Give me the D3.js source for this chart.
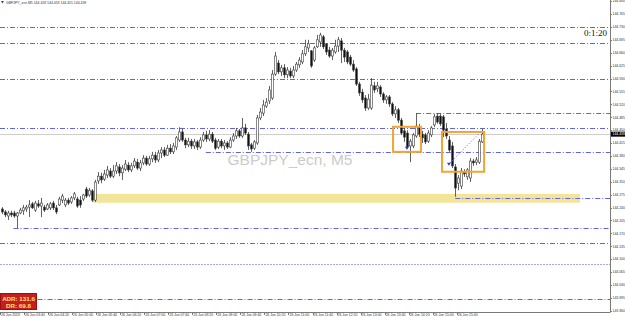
<!DOCTYPE html>
<html>
<head>
<meta charset="utf-8">
<script src="https://cdn.jsdelivr.net/npm/d3@7/dist/d3.min.js"></script>
<style>
  body { margin: 0; background: #fff; }
  #chart svg { display: block; }
  .tick-label { font-family: "Liberation Sans", Arial, sans-serif; font-size: 8px; fill: #333; }
</style>
</head>
<body>
<div id="chart"></div>
<script>
// GBPJPY M5 bars (prices)
const OPEN = [
  144.236,144.228,144.217,144.225,144.225,144.217,144.225,144.231,144.236,144.241,
  144.250,144.233,144.250,144.244,144.241,144.236,144.239,144.252,144.239,144.247,
  144.260,144.247,144.260,144.255,144.266,144.263,144.260,144.263,144.290,144.274,
  144.285,144.260,144.312,144.325,144.317,144.328,144.339,144.325,144.339,144.350,
  144.334,144.344,144.355,144.342,144.353,144.363,144.347,144.361,144.374,144.358,
  144.372,144.382,144.369,144.388,144.396,144.382,144.401,144.391,144.404,144.423,
  144.445,144.423,144.410,144.420,144.407,144.418,144.404,144.423,144.437,144.426,
  144.439,144.423,144.404,144.420,144.407,144.415,144.404,144.423,144.434,144.448,
  144.434,144.456,144.439,144.410,144.401,144.415,144.483,144.496,144.515,144.529,
  144.537,144.602,144.632,144.608,144.619,144.600,144.610,144.597,144.613,144.627,
  144.635,144.657,144.673,144.665,144.640,144.676,144.689,144.703,144.684,144.667,
  144.651,144.662,144.678,144.692,144.667,144.662,144.648,144.629,144.616,144.575,
  144.553,144.537,144.510,144.510,144.570,144.562,144.567,144.548,144.532,144.540,
  144.521,144.494,144.505,144.477,144.448,144.442,144.407,144.407,144.434,144.458,
  144.439,144.437,144.420,144.437,144.464,144.488,144.488,144.486,144.453,144.423,
  144.407,144.350,144.306,144.298,144.336,144.323,144.320,144.366,144.363,144.363,
  144.418
];
const HIGH = [
  144.241,144.233,144.231,144.231,144.231,144.228,144.239,144.247,144.247,144.260,
  144.255,144.258,144.260,144.266,144.247,144.252,144.255,144.258,144.247,144.269,
  144.277,144.266,144.266,144.271,144.282,144.269,144.271,144.277,144.296,144.293,
  144.290,144.315,144.336,144.334,144.342,144.353,144.347,144.355,144.363,144.358,
  144.355,144.369,144.363,144.361,144.374,144.372,144.369,144.382,144.380,144.380,
  144.391,144.391,144.396,144.404,144.404,144.410,144.412,144.415,144.434,144.458,
  144.453,144.429,144.429,144.426,144.426,144.423,144.431,144.445,144.448,144.450,
  144.445,144.429,144.426,144.426,144.423,144.420,144.431,144.442,144.456,144.453,
  144.483,144.467,144.445,144.415,144.423,144.491,144.510,144.532,144.537,144.570,
  144.613,144.662,144.640,144.627,144.629,144.621,144.619,144.624,144.635,144.648,
  144.667,144.695,144.695,144.667,144.678,144.708,144.714,144.708,144.686,144.676,
  144.673,144.695,144.703,144.700,144.673,144.667,144.654,144.640,144.621,144.581,
  144.562,144.545,144.548,144.591,144.581,144.581,144.572,144.553,144.545,144.545,
  144.526,144.515,144.510,144.483,144.456,144.450,144.426,144.442,144.496,144.467,
  144.448,144.442,144.450,144.461,144.494,144.496,144.494,144.491,144.469,144.434,
  144.418,144.358,144.328,144.347,144.344,144.347,144.374,144.372,144.377,144.426,
  144.453
];
const LOW = [
  144.222,144.214,144.206,144.214,144.212,144.184,144.222,144.220,144.228,144.214,
  144.236,144.228,144.239,144.214,144.228,144.233,144.233,144.233,144.222,144.244,
  144.252,144.241,144.247,144.250,144.260,144.239,144.239,144.258,144.266,144.269,
  144.255,144.255,144.304,144.306,144.312,144.320,144.320,144.320,144.331,144.325,
  144.315,144.339,144.336,144.336,144.347,144.342,144.339,144.355,144.353,144.353,
  144.363,144.361,144.363,144.374,144.377,144.380,144.385,144.385,144.396,144.418,
  144.418,144.401,144.404,144.399,144.399,144.396,144.399,144.418,144.418,144.420,
  144.415,144.396,144.399,144.401,144.396,144.399,144.401,144.418,144.426,144.429,
  144.429,144.437,144.396,144.391,144.396,144.410,144.477,144.488,144.510,144.521,
  144.532,144.597,144.602,144.597,144.591,144.591,144.591,144.591,144.608,144.619,
  144.629,144.651,144.662,144.619,144.635,144.673,144.676,144.670,144.654,144.646,
  144.640,144.657,144.662,144.632,144.635,144.629,144.624,144.608,144.570,144.543,
  144.524,144.502,144.505,144.505,144.551,144.553,144.540,144.524,144.521,144.513,
  144.488,144.483,144.469,144.437,144.418,144.399,144.363,144.401,144.429,144.431,
  144.415,144.412,144.415,144.431,144.458,144.467,144.461,144.431,144.426,144.391,
  144.347,144.269,144.287,144.290,144.323,144.315,144.309,144.353,144.355,144.358,
  144.415
];
const CLOSE = [
  144.228,144.220,144.225,144.220,144.217,144.225,144.233,144.239,144.241,144.247,
  144.239,144.252,144.244,144.252,144.233,144.247,144.250,144.239,144.228,144.263,
  144.271,144.260,144.252,144.266,144.277,144.244,144.247,144.274,144.271,144.287,
  144.260,144.309,144.325,144.315,144.331,144.342,144.325,144.339,144.353,144.334,
  144.347,144.358,144.342,144.353,144.366,144.347,144.361,144.374,144.358,144.372,
  144.382,144.369,144.388,144.396,144.382,144.401,144.391,144.407,144.429,144.445,
  144.423,144.410,144.420,144.407,144.418,144.404,144.423,144.437,144.426,144.439,
  144.420,144.401,144.420,144.407,144.415,144.404,144.423,144.434,144.448,144.434,
  144.456,144.442,144.407,144.399,144.418,144.483,144.499,144.518,144.526,144.559,
  144.602,144.651,144.608,144.619,144.600,144.613,144.597,144.613,144.629,144.640,
  144.657,144.676,144.684,144.624,144.673,144.695,144.708,144.676,144.662,144.651,
  144.667,144.678,144.695,144.667,144.648,144.635,144.629,144.613,144.575,144.551,
  144.532,144.510,144.534,144.572,144.559,144.570,144.548,144.532,144.540,144.521,
  144.494,144.505,144.477,144.442,144.431,144.404,144.420,144.437,144.461,144.439,
  144.429,144.418,144.442,144.456,144.486,144.472,144.467,144.450,144.434,144.396,
  144.353,144.293,144.320,144.339,144.331,144.342,144.366,144.361,144.369,144.420,
  144.439
];

const TIME_LABELS = [
  "26 Jun 2019", "26 Jun 03:40", "26 Jun 04:20", "26 Jun 05:00", "26 Jun 05:40",
  "26 Jun 06:20", "26 Jun 07:00", "26 Jun 07:40", "26 Jun 08:20", "26 Jun 09:00",
  "26 Jun 09:40", "26 Jun 10:20", "26 Jun 11:00", "26 Jun 11:40", "26 Jun 12:20",
  "26 Jun 13:00", "26 Jun 13:40", "26 Jun 14:20", "26 Jun 15:00", "26 Jun 15:40"
];
const TIME_LABEL_BARS = [0, 8, 16, 24, 32, 40, 48, 56, 64, 72, 80, 88, 96, 104, 112, 120, 128, 136, 144, 152];

const PRICE_TICKS = [
  144.800, 144.765, 144.730, 144.695, 144.660, 144.625, 144.590, 144.555, 144.520,
  144.485, 144.450, 144.415, 144.380, 144.345, 144.310, 144.275, 144.240, 144.205,
  144.170, 144.135, 144.100, 144.065, 144.030, 143.995, 143.960
];

// horizontal levels drawn on the chart, and the bar each one starts from
const LEVEL_PRICES = [144.730, 144.687, 144.589, 144.497, 144.456, 144.391, 144.266, 144.185, 144.145, 144.088, 143.993];
const LEVEL_START = [0, 0, 0, 138, 0, 68, 151, 4, 0, 0, 12];

// zones: [barFrom, barTo, priceTop, priceBottom]
const ZONE_YELLOW = [30.5, 192.5, 144.277, 144.253];
const BOX_1 = [130.3, 139.6, 144.459, 144.391];
const BOX_2 = [146.6, 160.6, 144.445, 144.337];
const TREND_LINE = [149.3, 144.361, 159.2, 144.443];
const ARROW_BARS = [134.9, 148.9];
const ARROW_PRICES = [144.402, 144.359];

const SYMBOL = "GBPJPY_ecn,M5";
const WATERMARK = "GBPJPY_ecn, M5";
const ADR_TEXT = ["ADR: 131.6", "DR: 69.8"];
const TIMER_TEXT = "0:1:20";

const SMALL = 0.43; // axis text is drawn at 8px and shrunk

renderChart();

function renderChart() {
  const width = 625;
  const height = 317;
  const plotRight = 610;
  const plotBottom = 312;

  const svg = d3.select("#chart")
    .append("svg")
    .attr("width", width)
    .attr("height", height);

  const x = d3.scaleLinear().domain([-0.5, 202.5]).range([0, plotRight]);
  const y = d3.scaleLinear().domain([143.960, 144.803]).range([310.7, 0]);

  const bars = OPEN.map((o, i) => ({ i, o, h: HIGH[i], l: LOW[i], c: CLOSE[i] }));
  const last = bars[bars.length - 1];

  // yellow zone
  svg.append("rect")
    .attr("x", x(ZONE_YELLOW[0]))
    .attr("y", y(ZONE_YELLOW[2]))
    .attr("width", x(ZONE_YELLOW[1]) - x(ZONE_YELLOW[0]))
    .attr("height", y(ZONE_YELLOW[3]) - y(ZONE_YELLOW[2]))
    .attr("fill", "#f3e597");

  // watermark
  svg.append("text")
    .attr("x", 290)
    .attr("y", 165)
    .attr("text-anchor", "middle")
    .style("font-family", "'Liberation Sans', Arial, sans-serif")
    .style("font-size", "15.5px")
    .attr("fill", "#cbcbcb")
    .text(WATERMARK);

  // levels
  svg.selectAll(".level")
    .data(LEVEL_PRICES)
    .enter()
    .append("line")
    .attr("class", "level")
    .attr("x1", (d, i) => LEVEL_START[i] === 0 ? 0 : x(LEVEL_START[i]))
    .attr("x2", plotRight)
    .attr("y1", d => Math.round(y(d)) + 0.5)
    .attr("y2", d => Math.round(y(d)) + 0.5)
    .attr("stroke", (d, i) => i === 9 ? "#a8a8f2" : "#6262e4")
    .attr("stroke-width", 1)
    .attr("stroke-dasharray", (d, i) => i === 9 ? "2,1" : "5,2,1,2");

  // bid line
  svg.append("line")
    .attr("x1", 0)
    .attr("x2", plotRight)
    .attr("y1", Math.round(y(last.c)) + 0.5)
    .attr("y2", Math.round(y(last.c)) + 0.5)
    .attr("stroke", "#cfcfcf");

  // candles
  const g = svg.append("g");
  g.selectAll(".wick")
    .data(bars)
    .enter()
    .append("line")
    .attr("x1", d => Math.round(x(d.i)) + 0.5)
    .attr("x2", d => Math.round(x(d.i)) + 0.5)
    .attr("y1", d => y(d.h))
    .attr("y2", d => y(d.l))
    .attr("stroke", "#3a3a3a")
    .attr("stroke-width", 0.8);

  g.selectAll(".body")
    .data(bars)
    .enter()
    .append("rect")
    .attr("x", d => Math.round(x(d.i)) - 0.4)
    .attr("y", d => y(Math.max(d.o, d.c)))
    .attr("width", 1.8)
    .attr("height", d => Math.max(1, Math.abs(y(d.o) - y(d.c))))
    .attr("fill", d => d.c >= d.o ? "#fff" : "#111")
    .attr("stroke", "#3a3a3a")
    .attr("stroke-width", 0.6);

  // orange boxes
  [BOX_1, BOX_2].forEach(b => {
    svg.append("rect")
      .attr("x", x(b[0]))
      .attr("y", y(b[2]))
      .attr("width", x(b[1]) - x(b[0]))
      .attr("height", y(b[3]) - y(b[2]))
      .attr("fill", "none")
      .attr("stroke", "#f2a531")
      .attr("stroke-width", 2);
  });

  // dotted trend line
  svg.append("line")
    .attr("x1", x(TREND_LINE[0]))
    .attr("y1", y(TREND_LINE[1]))
    .attr("x2", x(TREND_LINE[2]))
    .attr("y2", y(TREND_LINE[3]))
    .attr("stroke", "#5a5ae8")
    .attr("stroke-dasharray", "1,2");

  // trade arrows
  svg.selectAll(".arrow")
    .data(ARROW_BARS)
    .enter()
    .append("path")
    .attr("d", (d, i) => {
      const cx = x(d), cy = y(ARROW_PRICES[i]);
      return `M${cx - 2},${cy - 1}L${cx + 2},${cy - 1}L${cx},${cy + 2}Z`;
    })
    .attr("fill", "#1f3df0");

  // axes frame
  svg.append("line")
    .attr("x1", plotRight + 0.5).attr("x2", plotRight + 0.5)
    .attr("y1", 0).attr("y2", plotBottom)
    .attr("stroke", "#7a7a7a");
  svg.append("line")
    .attr("x1", 0).attr("x2", plotRight + 0.5)
    .attr("y1", plotBottom + 0.5).attr("y2", plotBottom + 0.5)
    .attr("stroke", "#7a7a7a");

  // price axis
  const py = svg.append("g");
  py.selectAll(".ptick")
    .data(PRICE_TICKS)
    .enter()
    .append("line")
    .attr("x1", plotRight).attr("x2", plotRight + 2)
    .attr("y1", d => Math.round(y(d)) + 0.5)
    .attr("y2", d => Math.round(y(d)) + 0.5)
    .attr("stroke", "#7a7a7a");
  py.selectAll(".plabel")
    .data(PRICE_TICKS)
    .enter()
    .append("text")
    .attr("class", "tick-label")
    .attr("transform", d => `translate(${plotRight + 2.5},${y(d) + 1.3}) scale(${SMALL})`)
    .text(d => d.toFixed(3));

  // current price label
  svg.append("rect")
    .attr("x", plotRight + 1)
    .attr("y", y(last.c) - 2.5)
    .attr("width", 14)
    .attr("height", 5)
    .attr("fill", "#000");
  svg.append("text")
    .attr("class", "tick-label")
    .attr("transform", `translate(${plotRight + 2.5},${y(last.c) + 1.3}) scale(${SMALL})`)
    .style("fill", "#fff")
    .text(last.c.toFixed(3));

  // time axis
  svg.selectAll(".ttick")
    .data(TIME_LABEL_BARS)
    .enter()
    .append("line")
    .attr("x1", d => Math.round(x(d - 0.5)) + 0.5)
    .attr("x2", d => Math.round(x(d - 0.5)) + 0.5)
    .attr("y1", plotBottom)
    .attr("y2", plotBottom + 3)
    .attr("stroke", "#7a7a7a");
  svg.selectAll(".tlabel")
    .data(TIME_LABEL_BARS)
    .enter()
    .append("text")
    .attr("class", "tick-label")
    .attr("transform", d => `translate(${x(d - 0.5) + 1},${plotBottom + 4.3}) scale(${SMALL})`)
    .text((d, i) => TIME_LABELS[i]);

  // title
  const title = `${SYMBOL}  ${last.o.toFixed(3)} ${last.h.toFixed(3)} ${last.l.toFixed(3)} ${last.c.toFixed(3)}`;
  svg.append("path")
    .attr("d", "M1,1L4,1L2.5,3.5Z")
    .attr("fill", "#444");
  svg.append("text")
    .attr("class", "tick-label")
    .attr("transform", `translate(6,3.8) scale(${SMALL})`)
    .text(title);

  // timer
  svg.append("text")
    .attr("x", 607)
    .attr("y", 36)
    .attr("text-anchor", "end")
    .style("font-family", "'Liberation Serif', 'Times New Roman', serif")
    .style("font-size", "9px")
    .attr("fill", "#111")
    .text(TIMER_TEXT);

  // ADR box
  svg.append("rect")
    .attr("x", 0.5).attr("y", 293.5)
    .attr("width", 36).attr("height", 16)
    .attr("fill", "#c71d1d")
    .attr("stroke", "#9c1010");
  svg.selectAll(".adr")
    .data(ADR_TEXT)
    .enter()
    .append("text")
    .attr("x", 18.5)
    .attr("y", (d, i) => 300.5 + i * 7)
    .attr("text-anchor", "middle")
    .style("font-family", "'Liberation Sans', Arial, sans-serif")
    .style("font-size", "6.2px")
    .style("font-weight", "bold")
    .attr("fill", "#ffe27a")
    .text(d => d);
}
</script>
</body>
</html>
